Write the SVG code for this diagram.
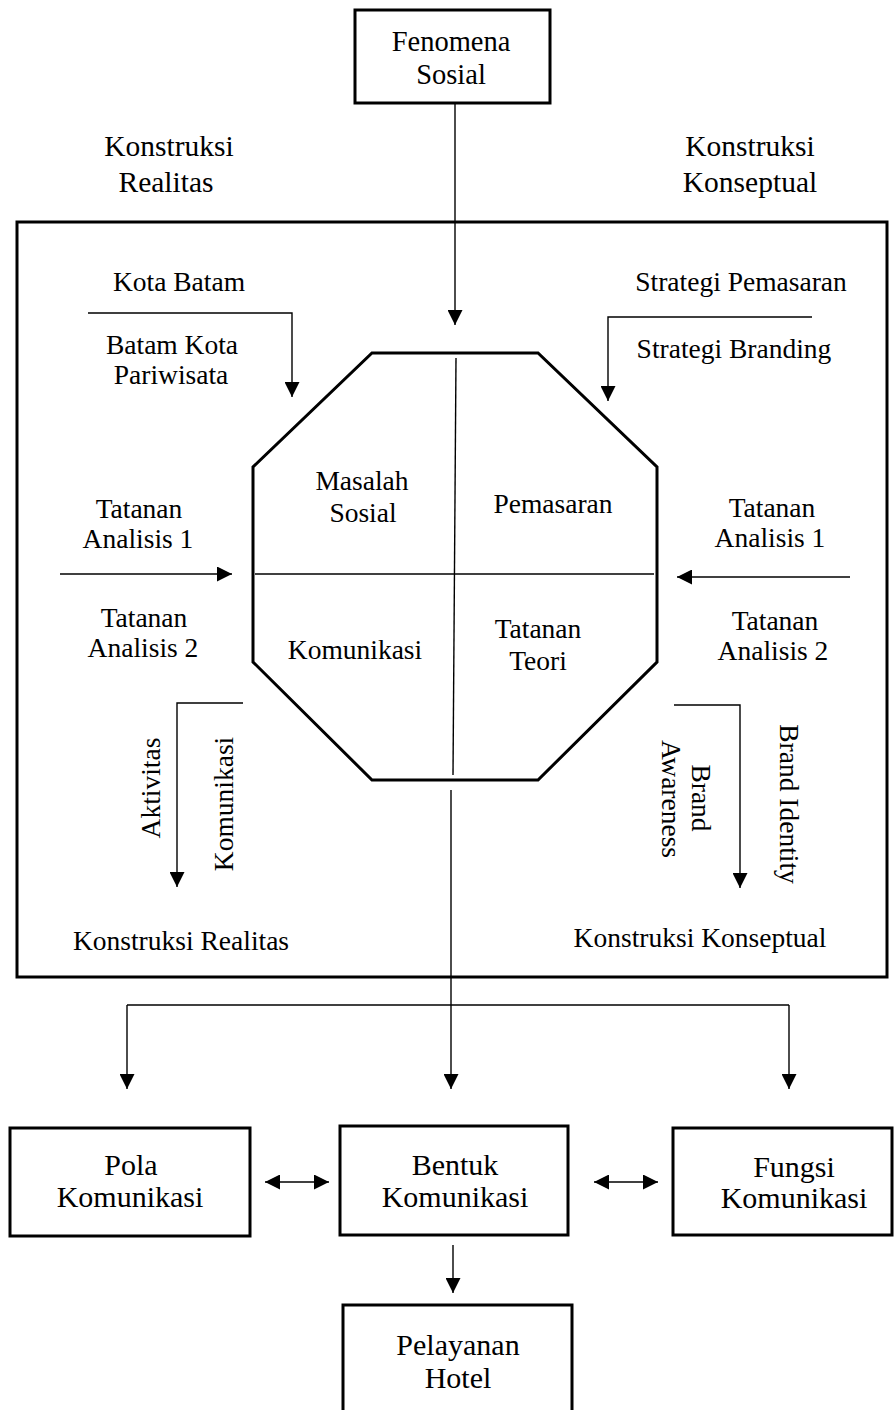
<svg xmlns="http://www.w3.org/2000/svg" width="896" height="1410" viewBox="0 0 896 1410">
<style>
text{font-family:"Liberation Serif","Times New Roman",serif;fill:#000;text-anchor:middle}
.t30{font-size:30px}
.t28{font-size:28.5px}
.t29{font-size:29.5px}
.t27{font-size:27.5px}
.box{fill:#fff;stroke:#000;stroke-width:3}
.frame{fill:none;stroke:#000;stroke-width:3}
.ln{fill:none;stroke:#000;stroke-width:1.4}
.arr{marker-end:url(#ah)}
.dbl{marker-end:url(#ah);marker-start:url(#ah)}
</style>
<defs>
<marker id="ah" markerUnits="userSpaceOnUse" markerWidth="15" markerHeight="15" refX="14" refY="7" orient="auto-start-reverse" viewBox="0 0 14 14">
<path d="M0,0 L14,7 L0,14 z" fill="#000"/>
</marker>
</defs>
<rect width="896" height="1410" fill="#fff"/>

<g id="frame">
<rect class="frame" x="17" y="222" width="870" height="755"/>
</g>

<g id="fenomena">
<rect class="box" x="355" y="10" width="195" height="93"/>
<text class="t28" x="451" y="51">Fenomena</text>
<text class="t28" x="451" y="84">Sosial</text>
</g>

<g id="label-konstruksi-realitas-top">
<text class="t29" x="169" y="156">Konstruksi</text>
<text class="t29" x="166" y="192">Realitas</text>
</g>
<g id="label-konstruksi-konseptual-top">
<text class="t29" x="750" y="156">Konstruksi</text>
<text class="t29" x="750" y="192">Konseptual</text>
</g>

<g id="octagon">
<polygon class="frame" points="372,353 538,353 657,467 657,662 538,780 372,780 253,662 253,467"/>
<line class="ln" x1="456" y1="358" x2="453" y2="775"/>
<line class="ln" x1="255" y1="574" x2="654" y2="574"/>
<text class="t27" x="362" y="490">Masalah</text>
<text class="t27" x="363" y="522">Sosial</text>
<text class="t27" x="553" y="513">Pemasaran</text>
<text class="t27" x="355" y="659">Komunikasi</text>
<text class="t27" x="538" y="638">Tatanan</text>
<text class="t27" x="538" y="670">Teori</text>
</g>

<g id="left-labels">
<text class="t27" x="179" y="291">Kota Batam</text>
<text class="t27" x="172" y="354">Batam Kota</text>
<text class="t27" x="171" y="384">Pariwisata</text>
<text class="t27" x="139" y="518">Tatanan</text>
<text class="t27" x="138" y="548">Analisis 1</text>
<text class="t27" x="144" y="627">Tatanan</text>
<text class="t27" x="143" y="657">Analisis 2</text>
<text class="t27" transform="translate(160,788) rotate(-90)">Aktivitas</text>
<text class="t27" transform="translate(233,804) rotate(-90)">Komunikasi</text>
<text class="t27" x="181" y="950">Konstruksi Realitas</text>
</g>

<g id="right-labels">
<text class="t27" x="741" y="291">Strategi Pemasaran</text>
<text class="t27" x="734" y="358">Strategi Branding</text>
<text class="t27" x="772" y="517">Tatanan</text>
<text class="t27" x="770" y="547">Analisis 1</text>
<text class="t27" x="775" y="630">Tatanan</text>
<text class="t27" x="773" y="660">Analisis 2</text>
<text class="t27" transform="translate(692,798) rotate(90)">Brand</text>
<text class="t27" transform="translate(662,799) rotate(90)">Awareness</text>
<text class="t27" transform="translate(780,804) rotate(90)">Brand Identity</text>
<text class="t27" x="700" y="947">Konstruksi Konseptual</text>
</g>

<g id="pola">
<rect class="box" x="10" y="1128" width="240" height="108"/>
<text class="t30" x="131" y="1175">Pola</text>
<text class="t30" x="130" y="1207">Komunikasi</text>
</g>
<g id="bentuk">
<rect class="box" x="340" y="1126" width="228" height="109"/>
<text class="t30" x="455" y="1175">Bentuk</text>
<text class="t30" x="455" y="1207">Komunikasi</text>
</g>
<g id="fungsi">
<rect class="box" x="673" y="1128" width="219" height="107"/>
<text class="t30" x="794" y="1177">Fungsi</text>
<text class="t30" x="794" y="1208">Komunikasi</text>
</g>
<g id="pelayanan">
<path class="frame" d="M343,1412 V1305 H572 V1412"/>
<text class="t30" x="458" y="1355">Pelayanan</text>
<text class="t30" x="458" y="1388">Hotel</text>
</g>

<g id="connectors">
<line class="ln arr" x1="455" y1="103" x2="455" y2="325"/>
<path class="ln arr" d="M88,313 H292 V397"/>
<path class="ln arr" d="M812,317 H608 V401"/>
<line class="ln arr" x1="60" y1="574" x2="232" y2="574"/>
<line class="ln arr" x1="850" y1="577" x2="677" y2="577"/>
<path class="ln arr" d="M243,703 H177 V887"/>
<path class="ln arr" d="M674,705 H740 V888"/>
<line class="ln arr" x1="451" y1="790" x2="451" y2="1089"/>
<path class="ln" d="M127,1005 H789"/>
<line class="ln arr" x1="127" y1="1005" x2="127" y2="1089"/>
<line class="ln arr" x1="789" y1="1005" x2="789" y2="1089"/>
<line class="ln dbl" x1="265" y1="1182" x2="329" y2="1182"/>
<line class="ln dbl" x1="594" y1="1182" x2="658" y2="1182"/>
<line class="ln arr" x1="453" y1="1245" x2="453" y2="1293"/>
</g>
</svg>
